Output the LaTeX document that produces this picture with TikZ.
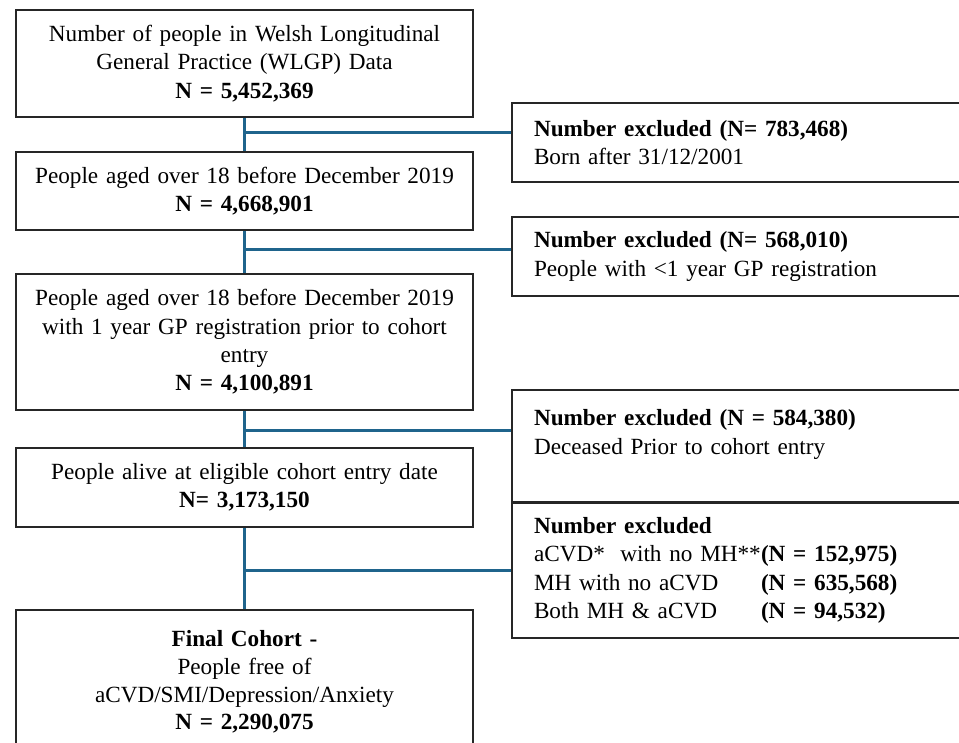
\documentclass[tikz,border=0pt]{standalone}
\usepackage{fontspec}
\setmainfont[WordSpace=0.85]{Liberation Serif}
\usepackage{xcolor}
\usetikzlibrary{positioning, calc}
\definecolor{linkblue}{RGB}{31,100,140}
\newcommand{\exlabel}[1]{\makebox[113.5pt][l]{#1}}

\begin{document}
\begin{tikzpicture}[x=0.5pt, y=-0.5pt,
		stagebox/.style={draw=black!85, line width=1pt, fill=white, align=center,
			minimum width=228.5pt, text width=220pt, inner sep=0pt,
			font=\fontsize{11.6}{14.2}\selectfont},
		dropbox/.style={draw=black!85, line width=1pt, fill=white, align=left,
			minimum width=250pt, text width=228pt, inner xsep=11pt, inner ysep=0pt,
			font=\fontsize{11.6}{14.2}\selectfont},
		link/.style={draw=linkblue, line width=1.5pt}]
				  \useasboundingbox (0,0) rectangle (959,743);
				  \clip (0,0) rectangle (959,743);
				  % main column
				  \node[stagebox, minimum height=53.5pt] (all) at (244.5,63.5) {Number of people in Welsh Longitudinal\\General Practice (WLGP) Data\\\textbf{N = 5,452,369}};
				  \node[stagebox, minimum height=39pt] (adult) at (244.5,191) {People aged over 18 before December 2019\\\textbf{N = 4,668,901}};
				  \node[stagebox, minimum height=68pt] (reg) at (244.5,342) {People aged over 18 before December 2019\\with 1 year GP registration prior to cohort\\entry\\\textbf{N = 4,100,891}};
				  \node[stagebox, minimum height=39.5pt] (alive) at (244.5,487.5) {People alive at eligible cohort entry date\\\textbf{N= 3,173,150}};
				  \node[stagebox, minimum height=72pt, font=\fontsize{11.6}{13.8}\selectfont] (final) at (244.5,682) {\textbf{Final Cohort -}\\People free of\\aCVD/SMI/Depression/Anxiety\\\textbf{N = 2,290,075}};
				  % exclusions
				  \node[dropbox, minimum height=39.5pt, anchor=west] (exborn) at (511,142.5) {\textbf{Number excluded (N= 783,468)}\\Born after 31/12/2001};
				  \node[dropbox, minimum height=39.5pt, anchor=west] (exreg) at (511,256.5) {\textbf{Number excluded (N= 568,010)}\\People with <1 year GP registration};
				  \node[dropbox, minimum height=56pt, anchor=west] (exdead) at (511,446) {\textbf{Number excluded (N = 584,380)}\\Deceased Prior to cohort entry\\\mbox{}};
				  \node[dropbox, minimum height=67.5pt, anchor=west] (excvd) at (511,570.5) {\textbf{Number excluded}\\\exlabel{aCVD*\ \ with no MH**}\textbf{(N = 152,975)}\\\exlabel{MH with no aCVD}\textbf{(N = 635,568)}\\\exlabel{Both MH \& aCVD}\textbf{(N = 94,532)}};
				  % branch points
				  \coordinate (b1) at ($(all.south)!0.45!(adult.north)$);
				  \coordinate (b2) at ($(adult.south)!0.45!(reg.north)$);
				  \coordinate (b3) at ($(reg.south)!0.55!(alive.north)$);
				  \coordinate (b4) at ($(alive.south)!0.53!(final.north)$);
				  \draw[link] (all) -- (adult);
				  \draw[link] (adult) -- (reg);
				  \draw[link] (reg) -- (alive);
				  \draw[link] (alive) -- (final);
				  \draw[link] (b1) -- (b1 -| exborn.west);
				  \draw[link] (b2) -- (b2 -| exreg.west);
				  \draw[link] (b3) -- (b3 -| exdead.west);
				  \draw[link] (b4) -- (b4 -| excvd.west);
				\end{tikzpicture}
\end{document}
